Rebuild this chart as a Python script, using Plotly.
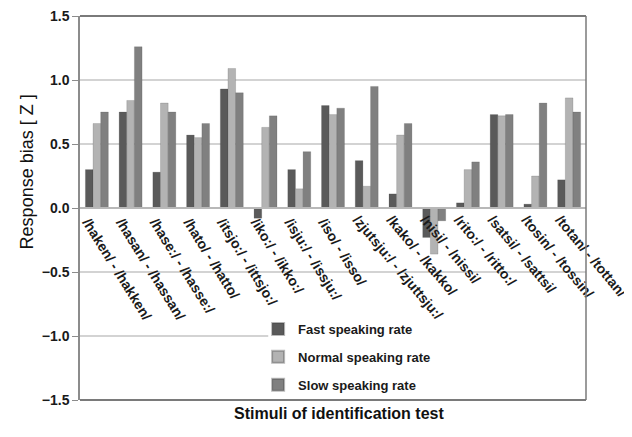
import plotly.graph_objects as go

categories = [
    "/haken/ - /hakken/", "/hasan/ - /hassan/", "/hase:/ - /hasse:/",
    "/hato/ - /hatto/", "/itsjo:/ - /ittsjo:/", "/iko:/ - /ikko:/",
    "/isju:/ - /issju:/", "/iso/ - /isso/", "/zjutsju:/ - /zjuttsju:/",
    "/kako/ - /kakko/", "/nisi/ - /nissi/", "/rito:/ - /ritto:/",
    "/satsi/ - /sattsi/", "/tosin/ - /tossin/", "/totan/ - /tottan/",
]
fast = [0.30, 0.75, 0.28, 0.57, 0.93, -0.08, 0.30, 0.80, 0.37, 0.11, -0.23, 0.04, 0.73, 0.03, 0.22]
normal = [0.66, 0.84, 0.82, 0.55, 1.09, 0.63, 0.15, 0.73, 0.17, 0.57, -0.36, 0.30, 0.72, 0.25, 0.86]
slow = [0.75, 1.26, 0.75, 0.66, 0.90, 0.72, 0.44, 0.78, 0.95, 0.66, -0.10, 0.36, 0.73, 0.82, 0.75]
series_names = ["Fast speaking rate", "Normal speaking rate", "Slow speaking rate"]
y_ticks = [-1.5, -1.0, -0.5, 0.0, 0.5, 1.0, 1.5]

colors = ["#5a5a5a", "#b3b3b3", "#808080"]
font_family = "Liberation Sans, Arial, sans-serif"
grid_color = "#c4c4c4"
label_font = dict(size=14, family=font_family, color="#1a1a1a", weight="bold")

fig = go.Figure()
for i, (name, vals) in enumerate(zip(series_names, [fast, normal, slow])):
    fig.add_trace(go.Bar(
        x=categories, y=vals, name=name, legendgroup=name,
        marker=dict(color=colors[i], line=dict(color="rgba(60,60,60,0.35)", width=0.5)),
    ))
# invisible helper trace so the second label axis is drawn
fig.add_trace(go.Scatter(x=categories, y=[None] * len(categories), xaxis="x2",
                         mode="markers", showlegend=False, hoverinfo="skip"))

shapes = []
for v in y_ticks:
    if v in (-1.5, 0.0, 1.5):
        continue
    x_end = 0.372 if v == -1.0 else 1
    shapes.append(dict(type="line", xref="paper", yref="y", x0=0, x1=x_end, y0=v, y1=v,
                       layer="below", line=dict(color=grid_color, width=1.5)))
shapes += [
    dict(type="line", xref="paper", yref="paper", x0=0, x1=1, y0=1, y1=1,
         line=dict(color="#7a7a7a", width=2)),
    dict(type="line", xref="paper", yref="paper", x0=0, x1=1, y0=0, y1=0,
         line=dict(color="#7a7a7a", width=2)),
    dict(type="line", xref="paper", yref="paper", x0=1, x1=1, y0=0, y1=1,
         line=dict(color="#7a7a7a", width=1.5)),
]

x_range = [-0.5, len(categories) - 0.5]

fig.update_layout(
    width=624, height=429,
    margin=dict(l=72, r=46, t=8, b=37, autoexpand=False),
    paper_bgcolor="white", plot_bgcolor="white",
    barmode="group", bargap=0.32, bargroupgap=0,
    font=dict(family=font_family, color="#1a1a1a"),
    showlegend=True,
    legend=dict(
        x=0.352, y=0.224, xanchor="left", yanchor="top",
        bgcolor="rgba(0,0,0,0)", borderwidth=0,
        font=dict(size=13, family=font_family, color="#1a1a1a", weight="bold"),
        tracegroupgap=8, itemsizing="constant",
    ),
    xaxis=dict(
        anchor="free", position=0.5, automargin=False,
        categoryorder="array", categoryarray=categories, range=x_range,
        tickvals=categories[:8],
        showline=True, linecolor="#b8b8b8", linewidth=1.5,
        ticks="", tickangle=58, ticklabelshift=-9, ticklabelstandoff=0,
        ticklabeloverflow="allow", tickfont=label_font,
        showgrid=False, zeroline=False,
    ),
    xaxis2=dict(
        anchor="free", position=0.5, overlaying="x", side="bottom", automargin=False,
        categoryorder="array", categoryarray=categories, range=x_range,
        tickvals=categories[8:],
        showline=False, ticks="", tickangle=50, ticklabelshift=-9, ticklabelstandoff=0,
        ticklabeloverflow="allow", tickfont=label_font,
        showgrid=False, zeroline=False,
    ),
    yaxis=dict(
        range=[-1.5, 1.5], tickvals=y_ticks, tickformat=".1f", automargin=False,
        showline=True, linecolor="#8c8c8c", linewidth=1.5,
        ticks="outside", ticklen=6, tickcolor="#8c8c8c",
        ticklabeloverflow="allow",
        tickfont=dict(size=14, family=font_family, color="#1a1a1a", weight="bold"),
        showgrid=False, zeroline=False,
    ),
    shapes=shapes,
    annotations=[
        dict(text="Stimuli of identification test", xref="paper", yref="paper",
             x=0.512, y=-0.035, xanchor="center", yanchor="middle", showarrow=False,
             font=dict(size=16, family=font_family, color="#111111", weight="bold")),
        dict(text="Response bias [ Z ]", xref="paper", yref="paper",
             x=-0.105, y=0.595, xanchor="center", yanchor="middle", showarrow=False,
             textangle=-90,
             font=dict(size=18, family=font_family, color="#111111")),
    ],
)

fig.write_html("out.html")
